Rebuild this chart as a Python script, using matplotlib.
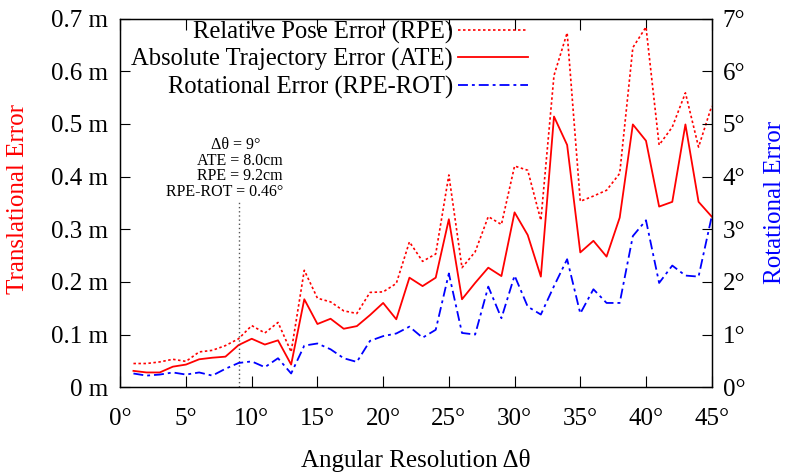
import matplotlib
matplotlib.use("Agg")
import matplotlib.pyplot as plt
from matplotlib.ticker import FuncFormatter, MultipleLocator

plt.rcParams['font.family'] = ['Liberation Serif', 'DejaVu Serif']
plt.rcParams['mathtext.fontset'] = 'stix'

angles = list(range(1, 46))
rpe = [0.045, 0.045, 0.048, 0.053, 0.049, 0.067, 0.070, 0.079, 0.092, 0.117,
       0.103, 0.123, 0.067, 0.222, 0.169, 0.162, 0.145, 0.140, 0.180, 0.181,
       0.197, 0.276, 0.239, 0.253, 0.403, 0.227, 0.257, 0.324, 0.309, 0.420,
       0.412, 0.317, 0.592, 0.673, 0.353, 0.363, 0.374, 0.406, 0.645, 0.684,
       0.460, 0.494, 0.559, 0.456, 0.534]
ate = [0.031, 0.028, 0.028, 0.039, 0.043, 0.053, 0.056, 0.058, 0.080, 0.092,
       0.081, 0.089, 0.043, 0.167, 0.120, 0.130, 0.111, 0.116, 0.137, 0.160,
       0.129, 0.208, 0.192, 0.208, 0.319, 0.167, 0.198, 0.227, 0.211, 0.332,
       0.289, 0.210, 0.514, 0.460, 0.256, 0.278, 0.248, 0.322, 0.499, 0.468,
       0.343, 0.352, 0.499, 0.352, 0.324]
rot = [0.26, 0.22, 0.24, 0.28, 0.24, 0.28, 0.22, 0.35, 0.46, 0.49,
       0.38, 0.55, 0.26, 0.79, 0.83, 0.72, 0.55, 0.48, 0.88, 0.97,
       1.02, 1.15, 0.94, 1.09, 2.16, 1.03, 1.00, 1.91, 1.31, 2.12,
       1.53, 1.38, 1.92, 2.43, 1.40, 1.86, 1.60, 1.60, 2.87, 3.17,
       1.98, 2.31, 2.12, 2.10, 3.24]

labels = ["Relative Pose Error (RPE)", "Absolute Trajectory Error (ATE)",
          "Rotational Error (RPE-ROT)"]
marker_angle = 9
annot_lines = ["Δθ = 9°", "ATE = 8.0cm", "RPE = 9.2cm", "RPE-ROT = 0.46°"]

W, H = 785, 472
fig = plt.figure(figsize=(W / 100, H / 100), dpi=100)
L, R, T, B = 120.3, 711.7, 18.6, 387.2
ax = fig.add_axes([L / W, 1 - B / H, (R - L) / W, (B - T) / H])
ax2 = ax.twinx()

fs = 18
l1, = ax.plot(angles, rpe, color='#ff0000', lw=1.2, linestyle=(0, (1.5, 1.5)))
l2, = ax.plot(angles, ate, color='#ff0000', lw=1.3)
l3, = ax2.plot(angles, rot, color='#0000ff', lw=1.3, linestyle=(0, (5.5, 2.2, 1.6, 2.2)))

ax.set_xlim(0, 45)
ax.set_ylim(0, 0.7)
ax2.set_ylim(0, 7)

ax.axvline(marker_angle, ymin=0, ymax=(B - 200) / (B - T), color='#555555',
           lw=1.0, linestyle=(0, (1, 2)))

ax.xaxis.set_major_locator(MultipleLocator(5))
ax.yaxis.set_major_locator(MultipleLocator(0.1))
ax2.yaxis.set_major_locator(MultipleLocator(1))
ax.xaxis.set_major_formatter(FuncFormatter(lambda v, p: f"{v:.0f}°"))
ax.yaxis.set_major_formatter(FuncFormatter(lambda v, p: "0 m" if abs(v) < 1e-9 else f"{v:.1f} m"))
ax2.yaxis.set_major_formatter(FuncFormatter(lambda v, p: f"{v:.0f}°"))

ax.tick_params(axis='x', direction='in', length=8, width=0.8, labelsize=fs, pad=15, top=True)
ax.tick_params(axis='y', direction='in', length=7.5, width=0.8, labelsize=fs, pad=9)
ax2.tick_params(axis='y', direction='in', length=7.5, width=0.8, labelsize=fs, pad=8)
for a in (ax, ax2):
    for s in a.spines.values():
        s.set_linewidth(0.9)

fig.text(18.5 / W, 1 - 199 / H, "Translational Error", color='#ff0000', fontsize=fs,
         rotation=90, ha='center', va='center')
fig.text(775 / W, 1 - 202 / H, "Rotational Error", color='#0000ff', fontsize=fs,
         rotation=90, ha='center', va='center')
fig.text(416 / W, 1 - 460 / H, "Angular Resolution Δθ", fontsize=fs,
         ha='center', va='center')

ys = [145, 161.5, 176.5, 191.5]
xs = [260, 283, 283, 283]
for t, xx, yy in zip(annot_lines, xs, ys):
    fig.text(xx / W, 1 - yy / H, t, fontsize=11.5, ha='right', va='center')

leg = ax.legend([l1, l2, l3], labels, loc='upper right',
                bbox_to_anchor=((528 - L) / (R - L), 1 - (20.5 - T) / (B - T)),
                frameon=False, fontsize=17.7, markerfirst=False, handlelength=2.85,
                handletextpad=0.2, labelspacing=0.19, borderpad=0, borderaxespad=0)

fig.savefig("out.png", dpi=100)
